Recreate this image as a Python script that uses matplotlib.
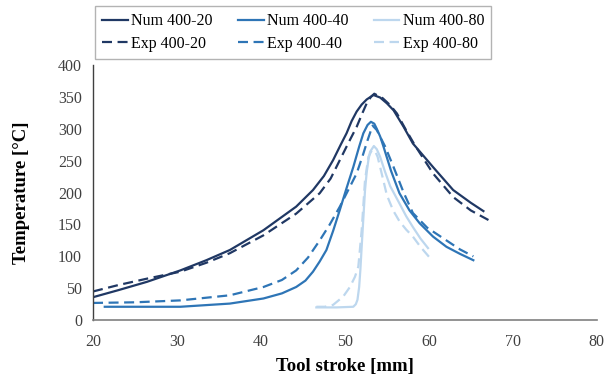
import matplotlib
matplotlib.use("Agg")
import matplotlib.pyplot as plt

plt.rcParams['font.family'] = ['Liberation Serif', 'DejaVu Serif']

# values
x_num20 = [20.0, 23.0, 26.4, 30.4, 33.5, 36.3, 40.3, 44.2, 46.2, 47.5, 48.6, 49.5, 50.2, 50.8, 51.4, 52.0, 52.6, 53.4, 54.2, 55.0, 55.8, 57.0, 58.1, 60.5, 62.9, 65.0, 66.5]
t_num20 = [36, 47, 60, 78, 94, 110, 141, 178, 204, 226, 251, 275, 293, 312, 327, 338, 346, 353, 349, 340, 329, 303, 277, 240, 204, 184, 171]
x_exp20 = [20.0, 23.0, 26.4, 30.4, 33.5, 36.3, 40.3, 44.2, 47.0, 48.3, 49.4, 50.5, 51.4, 52.1, 52.6, 53.1, 53.5, 54.5, 55.4, 56.2, 57.2, 58.3, 60.5, 62.9, 65.0, 67.1]
t_exp20 = [45, 55, 65, 76, 90, 105, 133, 167, 199, 222, 251, 280, 303, 325, 340, 350, 355, 348, 337, 324, 300, 275, 230, 193, 172, 157]

x_num40 = [21.4, 25.0, 30.4, 36.3, 40.3, 42.5, 44.2, 45.3, 46.2, 47.0, 47.8, 48.6, 49.4, 50.2, 51.0, 51.7, 52.2, 52.7, 53.1, 53.5, 53.8, 54.2, 54.6, 55.5, 56.5, 57.7, 58.9, 60.5, 62.1, 63.7, 65.3]
t_num40 = [21, 21, 21, 26, 34, 42, 52, 62, 76, 92, 110, 140, 173, 207, 240, 272, 293, 306, 311, 308, 300, 288, 272, 234, 199, 172, 152, 131, 115, 104, 94]
x_exp40 = [20.0, 25.0, 30.4, 36.3, 40.3, 42.5, 44.2, 45.6, 47.0, 48.2, 49.4, 50.4, 51.4, 52.1, 52.7, 53.3, 53.8, 54.8, 55.8, 57.0, 58.1, 59.8, 62.1, 63.7, 65.3]
t_exp40 = [27, 28, 31, 39, 52, 63, 78, 98, 125, 150, 178, 204, 230, 257, 282, 305, 298, 272, 240, 200, 168, 145, 125, 111, 100]

x_num80 = [46.6, 49.0, 51.0, 51.3, 51.5, 51.7, 51.85, 52.0, 52.2, 52.4, 52.6, 52.8, 53.0, 53.45, 53.8, 54.2, 54.8, 55.4, 56.5, 57.3, 58.1, 59.0, 59.9]
t_num80 = [20, 20, 21, 25, 32, 52, 80, 115, 160, 204, 232, 251, 264, 273, 268, 256, 232, 210, 183, 163, 146, 128, 113]
x_exp80 = [46.6, 47.6, 48.6, 49.8, 50.6, 51.2, 51.6, 52.0, 52.4, 52.8, 53.2, 53.6, 53.9, 54.2, 55.0, 55.75, 56.5, 57.3, 58.1, 59.0, 60.3]
t_exp80 = [21, 21, 24, 37, 52, 68, 84, 141, 220, 256, 266, 265, 256, 240, 196, 172, 155, 142, 131, 115, 95]

dark = '#203864'
mid = '#2E75B6'
light = '#BDD7EE'
dash = (4.5, 2.5)

fig = plt.figure(figsize=(6.04, 3.78), dpi=100)
ax = fig.add_axes([0.154, 0.153, 0.834, 0.675])

ax.plot(x_num20, t_num20, '-', color=dark, lw=1.6, label='Num 400-20')
ax.plot(x_exp20, t_exp20, '--', color=dark, lw=1.6, dashes=dash, label='Exp 400-20')
ax.plot(x_num40, t_num40, '-', color=mid, lw=1.6, label='Num 400-40')
ax.plot(x_exp40, t_exp40, '--', color=mid, lw=1.6, dashes=dash, label='Exp 400-40')
ax.plot(x_num80, t_num80, '-', color=light, lw=1.6, label='Num 400-80')
ax.plot(x_exp80, t_exp80, '--', color=light, lw=1.6, dashes=dash, label='Exp 400-80')

ax.set_xlim(20, 80)
ax.set_ylim(0, 400)
ax.set_xticks(range(20, 81, 10))
ax.set_yticks(range(0, 401, 50))
ax.tick_params(length=0, labelsize=11.5, colors='#404040')
ax.tick_params(axis='x', pad=10)
ax.tick_params(axis='y', pad=8)

for s in ['top', 'right']:
    ax.spines[s].set_visible(False)
ax.spines['left'].set_color('#404040')
ax.spines['bottom'].set_color('#808080')
ax.spines['left'].set_linewidth(1.0)
ax.spines['bottom'].set_linewidth(1.2)

ax.set_xlabel('Tool stroke [mm]', fontsize=13.5, fontweight='bold', labelpad=6)
ax.set_ylabel('Temperature [°C]', fontsize=13.5, fontweight='bold', labelpad=20)

leg = fig.legend(ncol=3, loc='upper left', bbox_to_anchor=(95/604, 1 - 6/378),
                 borderaxespad=0, fontsize=11.5, frameon=True, fancybox=False,
                 handlelength=1.6, handletextpad=0.2, columnspacing=1.6,
                 borderpad=0.45, labelspacing=0.42)
leg.get_frame().set_edgecolor('#a0a0a0')
leg.get_frame().set_linewidth(1.0)

fig.savefig('out.png', dpi=100)
